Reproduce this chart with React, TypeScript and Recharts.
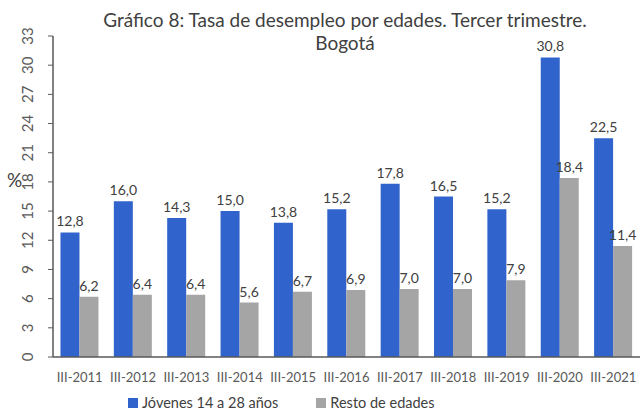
import { BarChart, Bar, XAxis, YAxis, LabelList } from 'recharts'

const periodos = ['III-2011', 'III-2012', 'III-2013', 'III-2014', 'III-2015', 'III-2016', 'III-2017', 'III-2018', 'III-2019', 'III-2020', 'III-2021']
const jovenes = [12.8, 16.0, 14.3, 15.0, 13.8, 15.2, 17.8, 16.5, 15.2, 30.8, 22.5]
const resto = [6.2, 6.4, 6.4, 5.6, 6.7, 6.9, 7.0, 7.0, 7.9, 18.4, 11.4]
const yTicks = [0, 3, 6, 9, 12, 15, 18, 21, 24, 27, 30, 33]

const data = periodos.map((p, i) => ({ periodo: p, jovenes: jovenes[i], resto: resto[i] }))

const AZUL = '#3063CB'
const GRIS = '#A5A5A5'
const font = 'Lato, "Noto Sans", sans-serif'

const fmt = (v: any) => Number(v).toFixed(1).replace('.', ',')

const YTick = ({ y, payload }: any) => (
  <text x={33} y={y} transform={`rotate(-90 33 ${y})`} textAnchor="middle"
    fill="#595959" fontSize={15} fontFamily={font}>
    {payload.value}
  </text>
)

export default function App() {
  return (
    <div style={{ position: 'absolute', left: 0, top: 0, width: 642, height: 415, background: '#fff', fontFamily: font, overflow: 'hidden' }}>
      <div style={{ position: 'absolute', left: 80, width: 530, top: 8, textAlign: 'center', fontSize: 19, lineHeight: '23px', color: '#404040' }}>
        Gráfico 8: Tasa de desempleo por edades. Tercer trimestre.<br />Bogotá
      </div>
      <div style={{ position: 'absolute', left: 7, top: 168, fontSize: 19, color: '#404040' }}>%</div>
      <BarChart width={642} height={415} data={data}
        margin={{ top: 36, right: 2, bottom: 26, left: 0 }}
        barCategoryGap="14%" barGap={0}>
        <XAxis dataKey="periodo" axisLine={{ stroke: '#595959', strokeWidth: 1.5 }} tickLine={false}
          tick={{ fill: '#595959', fontSize: 13, fontFamily: font }} tickMargin={10} height={32} interval={0} />
        <YAxis width={53} domain={[0, 33]} ticks={yTicks} interval={0}
          axisLine={{ stroke: '#595959', strokeWidth: 1.5 }} tickLine={{ stroke: '#595959' }} tickSize={5}
          tick={<YTick />} />
        <Bar dataKey="jovenes" fill={AZUL} isAnimationActive={false}>
          <LabelList dataKey="jovenes" position="top" offset={6} formatter={fmt}
            style={{ fill: '#404040', fontSize: 14, fontFamily: font }} />
        </Bar>
        <Bar dataKey="resto" fill={GRIS} isAnimationActive={false}>
          <LabelList dataKey="resto" position="top" offset={6} formatter={fmt}
            style={{ fill: '#404040', fontSize: 14, fontFamily: font }} />
        </Bar>
      </BarChart>
      <div style={{ position: 'absolute', top: 395, left: 128, display: 'flex', gap: 38, fontSize: 14.5, color: '#404040', lineHeight: '16px' }}>
        <span style={{ display: 'flex', alignItems: 'center' }}>
          <span style={{ width: 10, height: 10, background: AZUL, marginRight: 4 }} />Jóvenes 14 a 28 años
        </span>
        <span style={{ display: 'flex', alignItems: 'center' }}>
          <span style={{ width: 10, height: 10, background: GRIS, marginRight: 4 }} />Resto de edades
        </span>
      </div>
    </div>
  )
}
